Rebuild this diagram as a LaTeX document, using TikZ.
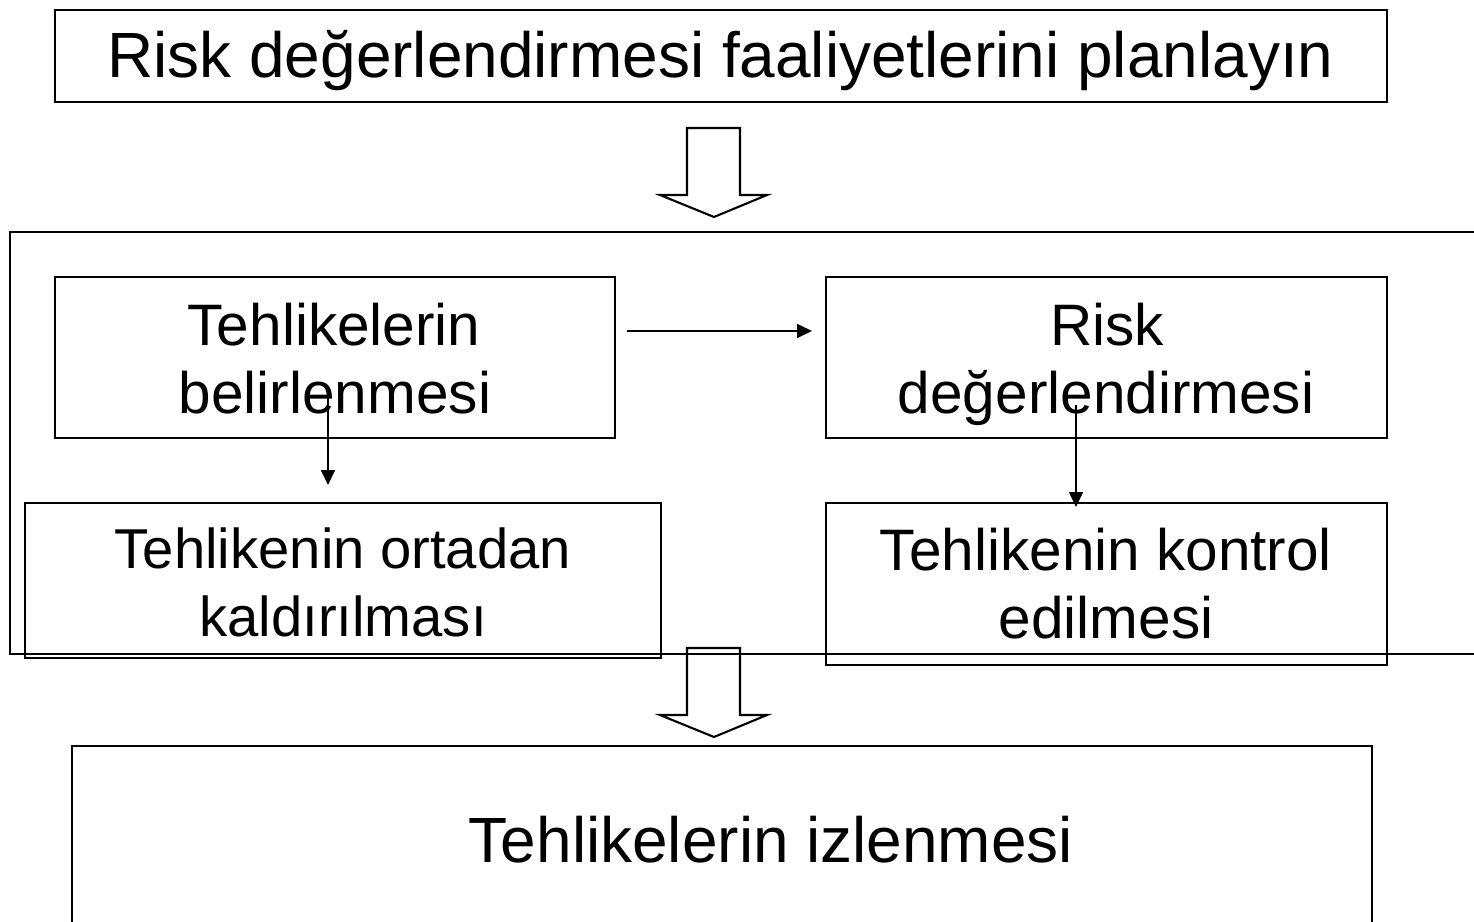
\documentclass[tikz,border=0pt]{standalone}
\usepackage{fontspec}
\setmainfont{Liberation Sans}
\usetikzlibrary{arrows.meta}
\begin{document}
\begin{tikzpicture}[x=0.02cm,y=-0.02cm,
  box/.style={draw=black, line width=1.4pt, inner sep=0pt},
  frame/.style={draw=black, line width=1pt},
  bigtxt/.style={inner sep=0pt, anchor=base, font=\fontsize{36.4pt}{44pt}\selectfont},
  smtxt/.style={inner sep=0pt, anchor=base, font=\fontsize{33.3pt}{39pt}\selectfont},
  smtxtb/.style={inner sep=0pt, anchor=base, font=\fontsize{32pt}{38pt}\selectfont},
  conn/.style={line width=1pt, -{Triangle[length=0.3cm,width=0.28cm]}},
  blockarrow/.style={draw=black, line width=1.2pt, line join=miter}
]
\useasboundingbox (0,0) rectangle (1474,922);
\clip (0,0) rectangle (1474,922);

% top box
\node[box, minimum width=1332*0.02cm, minimum height=92*0.02cm] (plan) at (721,56) {};
\node[bigtxt] (plant) at (720.5,78) {Risk değerlendirmesi faaliyetlerini planlayın};

% block arrow 1
\draw[blockarrow] (687,128) -- (740,128) -- (740,195) -- (767,195) -- (714,217) -- (660,195) -- (687,195) -- cycle;

% big frame (right side cut off)
\draw[frame] (1480,232) -- (10,232) -- (10,654) -- (1480,654);

% inner boxes
\node[box, minimum width=560*0.02cm, minimum height=161*0.02cm] (tb) at (335,357.5) {};
\node[smtxt] at (334,345) {Tehlikelerin};
\node[smtxt] at (335,413) {belirlenmesi};

\node[box, minimum width=561*0.02cm, minimum height=161*0.02cm] (rd) at (1106.5,357.5) {};
\node[smtxt] at (1107,345) {Risk};
\node[smtxt] at (1106,413) {değerlendirmesi};

\node[box, minimum width=636*0.02cm, minimum height=155*0.02cm] (to) at (343,580.5) {};
\node[smtxtb] at (343,568) {Tehlikenin ortadan};
\node[smtxtb] at (343,636) {kaldırılması};

\node[box, minimum width=561*0.02cm, minimum height=162*0.02cm] (tk) at (1106.5,584) {};
\node[smtxt] at (1106,570) {Tehlikenin kontrol};
\node[smtxt] at (1106,638) {edilmesi};

% connectors
\coordinate (h1) at (627,331);
\coordinate (h2) at (812,331);
\draw[conn] (h1) -- (h2);
\coordinate (d1s) at (328,395);
\coordinate (d1e) at (328,485);
\draw[conn] (d1s) -- (d1e);
\coordinate (d2s) at (1076,405);
\coordinate (d2e) at (1076,507);
\draw[conn] (d2s) -- (d2e);

% block arrow 2
\draw[blockarrow] (687,648) -- (740,648) -- (740,715) -- (767,715) -- (714,737) -- (660,715) -- (687,715) -- cycle;

% bottom box (bottom edge cut off)
\node[box, minimum width=1300*0.02cm, minimum height=220*0.02cm, anchor=north west] (mon) at (71,745) {};
\node[bigtxt] at (771,862) {Tehlikelerin izlenmesi};
\end{tikzpicture}
\end{document}
